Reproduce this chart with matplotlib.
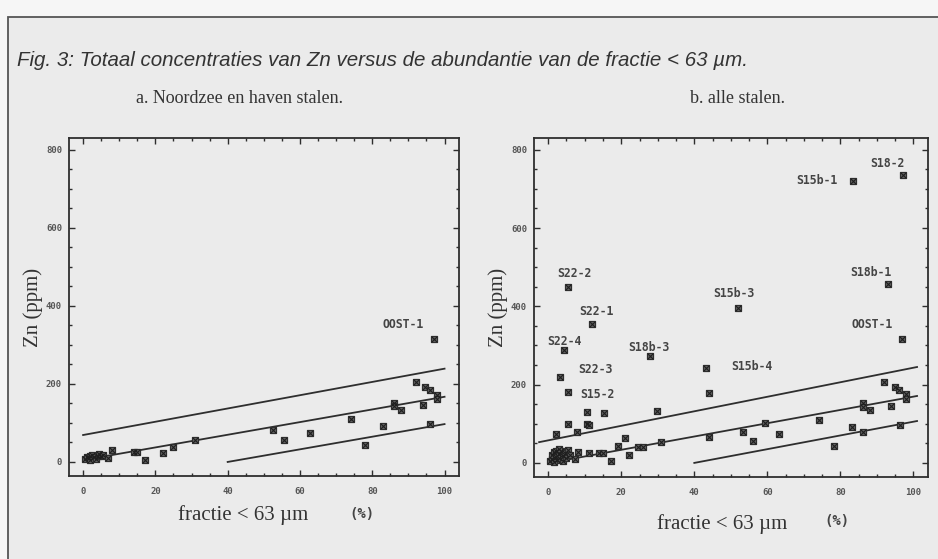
import matplotlib
matplotlib.use("Agg")
import matplotlib.pyplot as plt
from matplotlib.patches import Rectangle
from matplotlib.ticker import MultipleLocator

# panel a: Noordzee en haven stalen
frac_a = [0.5, 1, 1.5, 2, 2.5, 3, 3.5, 4, 4.5, 5, 5.5, 2,
          7, 8, 14, 15, 17, 22, 25, 31, 52.5, 55.7, 62.7, 74, 78, 83,
          86, 86, 88, 92, 94.5, 96, 94, 96, 98, 98, 97]
zn_a = [8, 12, 10, 15, 18, 12, 8, 16, 20, 14, 18, 6,
        11, 30, 26, 26, 5, 22, 39, 55, 81, 56, 75, 109, 44, 92,
        152, 144, 133, 205, 192, 185, 145, 97, 172, 161, 316]

# panel b: alle stalen
frac_b = [0.5, 1, 1, 1.5, 2, 2, 2.5, 3, 3, 3.5, 4, 4, 4.5, 5, 5.5, 6, 1.5, 3,
          7.4, 8.2, 11.2, 14, 15, 17.2, 22, 19.1, 24.7, 25.9, 31, 21.1,
          2.2, 8, 5.3, 10.6, 11.2, 10.6, 15.2, 29.8, 44.1, 44.1,
          5.4, 3.2, 43.2, 27.9, 4.3, 12.1, 5.3, 52.1,
          53.2, 56.2, 59.3, 63.1, 74.2, 78.2, 83.2, 86.2, 86.2, 86.2, 88.2,
          92, 94.9, 96, 94, 98, 98, 96.2, 97, 93, 83.4, 97.2]
zn_b = [5, 10, 20, 28, 15, 30, 8, 22, 12, 30, 18, 5, 25, 12, 32, 20, 3, 35,
        9, 29, 26, 26, 26, 6, 20, 44, 40, 40, 54, 63,
        73, 80, 99, 99, 97, 131, 127, 133, 67, 179,
        181, 220, 242, 273, 289, 356, 449, 397,
        80, 56, 101, 74, 110, 43, 92, 80, 154, 142, 135,
        206, 193, 186, 145, 175, 162, 97, 317, 457, 721, 736]

# named samples (x, Zn)
labels_a = {"OOST-1": (97, 316)}
labels_b = {"S18-2": (97.2, 736), "S15b-1": (83.4, 721), "S18b-1": (93, 457),
            "OOST-1": (97, 317), "S15b-3": (52.1, 397), "S22-2": (5.3, 449),
            "S22-1": (12.1, 356), "S22-4": (4.3, 289), "S18b-3": (27.9, 273),
            "S22-3": (3.2, 220), "S15-2": (5.4, 181), "S15b-4": (43.2, 242)}

# reference lines (x0, y0, x1, y1)
lines_a = [(0, 69, 100, 239), (2, 8, 100, 167), (40, 0, 100, 97)]
lines_b = [(-2.5, 53, 101, 245), (5, 8, 101, 171), (40, 0, 101, 107)]

# label offsets in points (dx, dy, ha)
offs = {"S18-2": (-11, 8, "center"), "S15b-1": (-11, 0, "right"),
        "S18b-1": (-12, 8, "center"), "OOST-1": (-22, 10, "center"),
        "S15b-3": (-3, 10, "center"), "S22-2": (5, 10, "center"),
        "S22-1": (3, 9, "center"), "S22-4": (0, 6, "center"),
        "S18b-3": (-1, 6.5, "center"), "S22-3": (13, 5, "left"),
        "S15-2": (9, -1.5, "left"), "S15b-4": (18, 1, "left")}

bg = "#ebebeb"
ink = "#2e2e2e"
mono = "DejaVu Sans Mono"
serif = "Liberation Serif"

fig = plt.figure(figsize=(9.38, 5.59), dpi=100, facecolor="#f6f6f6")
fig.patches.append(Rectangle((8 / 938, -0.01), 1.0, 1 - 17 / 559 + 0.01,
                             transform=fig.transFigure, facecolor=bg,
                             edgecolor="#555555", linewidth=1.3, zorder=-10))

fig.text(17 / 938, 1 - 61 / 559,
         "Fig. 3: Totaal concentraties van Zn versus de abundantie van de fractie < 63 \u00b5m.",
         family="Liberation Sans", style="italic", fontsize=14.8, color="#333333",
         va="center")
fig.text(136 / 938, 1 - 99 / 559, "a. Noordzee en haven stalen.", family=serif,
         fontsize=13, color="#333333", va="center")
fig.text(690 / 938, 1 - 99 / 559, "b. alle stalen.", family=serif,
         fontsize=13, color="#333333", va="center")


def panel(rect, xs, ys, lines, labels):
    ax = fig.add_axes(rect, facecolor=bg)
    for x0, y0, x1, y1 in lines:
        ax.plot([x0, x1], [y0, y1], color=ink, lw=1.3)
    ax.scatter(xs, ys, marker="s", s=20, facecolor="#666666", edgecolor=ink,
               linewidth=0.9, zorder=3)
    ax.scatter(xs, ys, marker="x", s=13, color="#1e1e1e", linewidth=0.8, zorder=4)
    for name, (x, y) in labels.items():
        dx, dy, ha = offs[name]
        ax.annotate(name, (x, y), xytext=(dx, dy), textcoords="offset points",
                    ha=ha, va="center", family=mono, weight="bold",
                    fontsize=8.3, color="#444444")
    ax.set_xlim(-3.9, 104)
    ax.set_ylim(-36, 830)
    ax.xaxis.set_major_locator(MultipleLocator(20))
    ax.xaxis.set_minor_locator(MultipleLocator(5))
    ax.yaxis.set_major_locator(MultipleLocator(200))
    ax.yaxis.set_minor_locator(MultipleLocator(50))
    ax.tick_params(which="both", direction="in", top=True, right=True,
                   color=ink, width=1.0)
    ax.tick_params(which="major", length=4.5, labelsize=6.5, labelcolor="#555555")
    ax.tick_params(which="minor", length=2.5)
    ax.tick_params(axis="x", pad=8)
    ax.tick_params(axis="y", pad=5)
    for lab in ax.get_xticklabels() + ax.get_yticklabels():
        lab.set_family(mono)
        lab.set_weight("bold")
    for sp in ax.spines.values():
        sp.set_color(ink)
        sp.set_linewidth(1.3)
    ax.set_ylabel("Zn (ppm)", family=serif, fontsize=15, color="#333333", labelpad=2)
    return ax


ax1 = panel([69 / 938, 1 - 476 / 559, 390 / 938, 338 / 559],
            frac_a, zn_a, lines_a, labels_a)
ax2 = panel([534 / 938, 1 - 477 / 559, 394 / 938, 339 / 559],
            frac_b, zn_b, lines_b, labels_b)

# x-axis captions, the "(%)" is set apart in typewriter style
fig.text(243 / 938, 1 - 515 / 559, "fractie < 63 \u00b5m", family=serif,
         fontsize=15, color="#333333", ha="center", va="center")
fig.text(362 / 938, 1 - 514 / 559, "(%)", family=mono, weight="bold",
         fontsize=10, color="#444444", ha="center", va="center")
fig.text(722 / 938, 1 - 524 / 559, "fractie < 63 \u00b5m", family=serif,
         fontsize=15, color="#333333", ha="center", va="center")
fig.text(837 / 938, 1 - 521 / 559, "(%)", family=mono, weight="bold",
         fontsize=10, color="#444444", ha="center", va="center")

fig.savefig("out.png", dpi=100, facecolor=fig.get_facecolor())
